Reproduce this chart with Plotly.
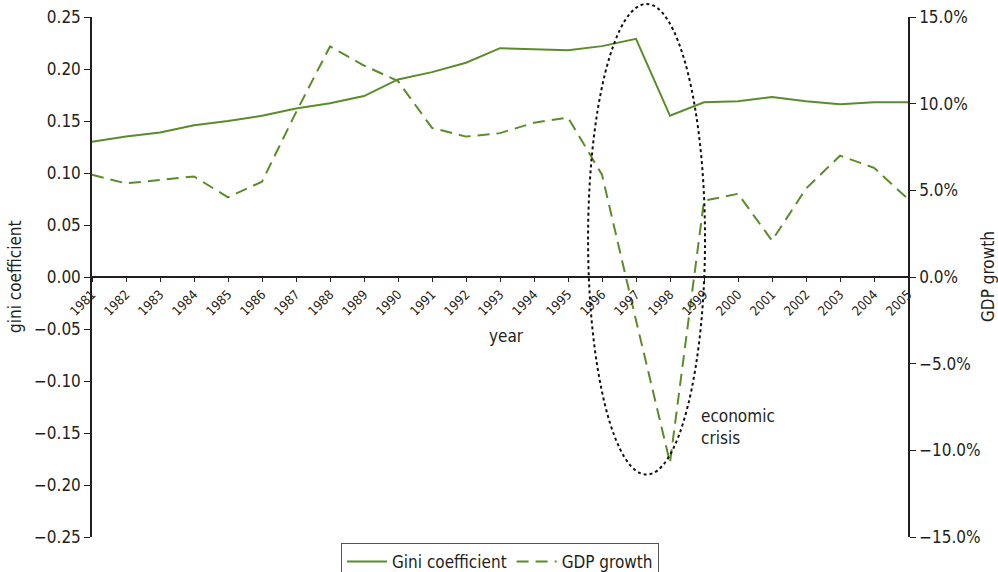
import plotly.graph_objects as go

years = list(range(1981, 2006))
gini = [0.130, 0.135, 0.139, 0.146, 0.150, 0.155, 0.162, 0.167, 0.174, 0.190,
        0.197, 0.206, 0.220, 0.219, 0.218, 0.222, 0.229, 0.155, 0.168, 0.169,
        0.173, 0.169, 0.166, 0.168, 0.168]
gdp_growth = [5.9, 5.4, 5.6, 5.8, 4.6, 5.5, 9.5, 13.3, 12.2, 11.3,
              8.6, 8.1, 8.3, 8.9, 9.2, 5.9, -2.5, -10.7, 4.4, 4.8,
              2.1, 5.1, 7.0, 6.3, 4.5]

left_ticks = [0.25, 0.20, 0.15, 0.10, 0.05, 0.00, -0.05, -0.10, -0.15, -0.20, -0.25]
right_ticks = [15, 10, 5, 0, -5, -10, -15]

GREEN = "#5b8c2a"
INK = "#231f20"
FONT = "Liberation Sans Narrow, DejaVu Sans Condensed, Arial Narrow, sans-serif"

X_RANGE = [1981, 2005]
Y_RANGE = [-0.25, 0.25]


def xfrac(v):
    return (v - X_RANGE[0]) / (X_RANGE[1] - X_RANGE[0])


def yfrac(v):
    return (v - Y_RANGE[0]) / (Y_RANGE[1] - Y_RANGE[0])


fig = go.Figure()
fig.add_trace(go.Scatter(x=years, y=gini, name="Gini coefficient", mode="lines",
                         line=dict(color=GREEN, width=2), yaxis="y", xaxis="x"))
fig.add_trace(go.Scatter(x=years, y=gdp_growth, name="GDP growth", mode="lines",
                         line=dict(color=GREEN, width=2, dash="12px,7px"),
                         yaxis="y2", xaxis="x"))

# dotted ellipse around the crisis years (paper refs so it can extend past the top)
fig.add_shape(type="circle", xref="paper", yref="paper",
              x0=xfrac(1995.59), x1=xfrac(1999.03),
              y0=yfrac(-0.190), y1=yfrac(0.2625),
              line=dict(color="#111111", width=2, dash="dot"))

fig.add_annotation(text="economic<br>crisis", x=1998.85, y=-0.122, xref="x", yref="y",
                   xanchor="left", yanchor="top", align="left", showarrow=False,
                   font=dict(size=17, color=INK, family=FONT))
fig.add_annotation(text="year", x=1993.2, y=-0.0565, xref="x", yref="y",
                   xanchor="center", yanchor="middle", showarrow=False,
                   font=dict(size=17, color=INK, family=FONT))
# axis titles
fig.add_annotation(text="gini coefficient", x=0, xref="paper", xshift=-77,
                   xanchor="center", yanchor="middle",
                   y=0.5, yref="paper", textangle=-90, showarrow=False,
                   font=dict(size=17, color=INK, family=FONT))
fig.add_annotation(text="GDP growth", x=1, xref="paper", xshift=80,
                   xanchor="center", yanchor="middle",
                   y=0.5, yref="paper", textangle=-90, showarrow=False,
                   font=dict(size=17, color=INK, family=FONT))

axis_common = dict(showgrid=False, zeroline=False, linecolor=INK, linewidth=1.5,
                   tickcolor=INK, automargin=False,
                   tickfont=dict(size=17, color=INK, family=FONT))

fig.update_layout(
    width=998, height=572,
    margin=dict(l=92, r=90, t=17, b=35, autoexpand=False),
    plot_bgcolor="white", paper_bgcolor="white",
    font=dict(family=FONT, color=INK),
    xaxis=dict(range=X_RANGE, tickmode="array", tickvals=years,
               ticktext=[str(y) for y in years], tickangle=-45,
               ticks="outside", ticklen=4, showline=True,
               anchor="free", position=0.5, automargin=False,
               showgrid=False, zeroline=False, linecolor=INK, linewidth=1.5,
               tickcolor=INK, tickfont=dict(size=13, color=INK, family=FONT)),
    xaxis2=dict(range=X_RANGE, overlaying="x", tickmode="array", tickvals=years,
                ticks="inside", ticklen=4, showticklabels=False, showline=False,
                anchor="free", position=0.5, showgrid=False, zeroline=False,
                tickcolor=INK, automargin=False),
    yaxis=dict(range=Y_RANGE, tickmode="array", tickvals=left_ticks,
               ticktext=[f"{v:.2f}".replace("-", "\u2212") for v in left_ticks],
               ticks="outside", ticklen=6, showline=True,
               **axis_common),
    yaxis2=dict(range=[-15, 15], overlaying="y", side="right", tickmode="array",
                tickvals=right_ticks,
                ticktext=[f"{v:.1f}%".replace("-", "\u2212") for v in right_ticks],
                ticks="outside", ticklen=6, showline=True,
                **axis_common),
    legend=dict(orientation="h", x=0.5, xanchor="center",
                yref="container", y=(572 - 543) / 572, yanchor="top",
                bordercolor="#555555", borderwidth=1,
                font=dict(size=17, color=INK, family=FONT),
                itemwidth=40, tracegroupgap=0),
    showlegend=True,
)

fig.write_html("out.html")
